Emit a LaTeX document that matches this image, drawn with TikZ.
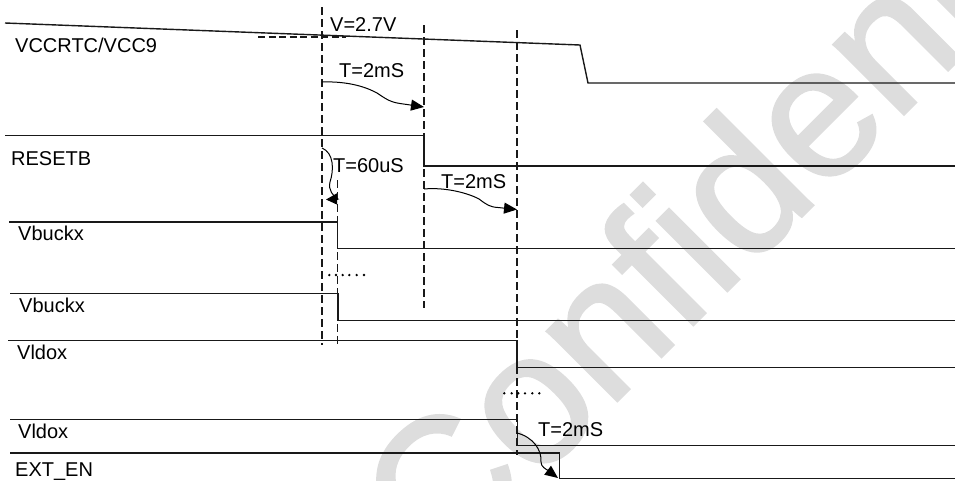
\documentclass[tikz,border=0pt]{standalone}
\usepackage{fontspec}
\setmainfont{Liberation Sans}
\font\wmfont="Liberation Sans:embolden=1.5" at 187pt
\usetikzlibrary{arrows.meta}
\definecolor{wm}{RGB}{221,221,221}
\definecolor{ink}{RGB}{25,25,25}
\begin{document}
\begin{tikzpicture}[x=1pt,y=-1pt,
  sig/.style={line width=1.4pt, draw=ink, line join=miter},
  vdash/.style={line width=1.1pt, draw=ink, dash pattern=on 8pt off 4pt},
  hdash/.style={line width=1.1pt, draw=ink, dash pattern=on 7pt off 3.5pt},
  lbl/.style={anchor=base west, inner sep=0pt, text=black, font=\fontsize{20}{24}\selectfont},
  tarr/.style={line width=1pt, draw=black, -{Triangle[length=13pt,width=11pt]}},
  tarrs/.style={line width=1pt, draw=black, -{Triangle[length=11pt,width=11pt]}},
  dotmark/.style={fill=black, draw=none}
]
\useasboundingbox (0,0) rectangle (955,480);
% watermark
\node[anchor=base west, inner sep=0pt, rotate=45, text=wm,
      font=\wmfont] (wmark) at (439,579) {Confidential};

% vertical dashed time markers
\coordinate (d1t) at (322,7);   \coordinate (d1b) at (322,345);
\coordinate (d4t) at (337.7,180); \coordinate (d4b) at (337.7,345);
\coordinate (d2t) at (424,25);  \coordinate (d2b) at (424,308);
\coordinate (d3t) at (517,30);  \coordinate (d3b) at (517,455);
\draw[vdash] (d1t) -- (d1b);
\draw[vdash] (d4t) -- (d4b);
\draw[vdash] (d2t) -- (d2b);
\draw[vdash] (d3t) -- (d3b);

% 2.7V threshold
\coordinate (th1) at (258,37); \coordinate (th2) at (346,37);
\draw[hdash] (th1) -- (th2);

% signals
\draw[sig] (5,23) -- (580,45) -- (588,83) -- (955,83);
\draw[sig] (5,135.5) -- (424,135.5) -- (424,166) -- (955,166);
\draw[sig] (9,222) -- (337.7,222) -- (337.7,248.5) -- (955,248.5);
\draw[sig] (10,293.5) -- (338,293.5) -- (338,320.7) -- (955,320.7);
\draw[sig] (8,340.5) -- (517,340.5) -- (517,367.3) -- (955,367.3);
\draw[sig] (10,419.3) -- (517.5,419.3) -- (517.5,445.7) -- (955,445.7);
\draw[sig] (10,452.8) -- (559.3,452.8) -- (559.3,478.5) -- (955,478.5);

% labels
\node[lbl] (vcc)  at (15,52)    {VCCRTC/VCC9};
\node[lbl] (rst)  at (11,165.5) {RESETB};
\node[lbl] (vb1)  at (18,240)   {Vbuckx};
\node[lbl] (vb2)  at (19,312)   {Vbuckx};
\node[lbl] (vl1)  at (17,359)   {Vldox};
\node[lbl] (vl2)  at (18,438)   {Vldox};
\node[lbl] (ext)  at (15,476.5) {EXT\_EN};
\node[lbl] (v27)  at (330,31)   {V=2.7V};
\node[lbl] (t1)   at (339,77)   {T=2mS};
\node[lbl] (t60)  at (333,172)  {T=60uS};
\node[lbl] (t2)   at (441,188)  {T=2mS};
\node[lbl] (t3)   at (538,436)  {T=2mS};

% timing arrows
\coordinate (a1s) at (322,82);   \coordinate (a1e) at (424,107);
\draw[tarr] (a1s) .. controls (350,81) and (368,88) .. (377,93)
            .. controls (386,99) and (390,102) .. (400,103.5) -- (a1e);
\coordinate (a2s) at (424,189);  \coordinate (a2e) at (517,209.5);
\draw[tarr] (a2s) .. controls (445,187) and (468,193) .. (479,199)
            .. controls (487,205) and (490,207) .. (498,207.5) -- (a2e);
\coordinate (a3s) at (322,148);  \coordinate (a3e) at (326,199.5);
\draw[tarrs] (a3s) .. controls (334,153) and (334,170) .. (330,182)
            .. controls (328,190) and (333,196) .. (338,199) -- (a3e);
\coordinate (a4s) at (517,433);  \coordinate (a4e) at (558,478);
\draw[tarr] (a4s) .. controls (533,437) and (542,450) .. (541,462)
            .. controls (541,467) and (546,469) .. (a4e);

% ellipsis dots
\foreach \x in {329.3,336,342.7,349.3,356.7,364}
  \fill[dotmark] (\x,275) circle[radius=1.3pt];
\foreach \x in {504.3,511.7,518.3,525,532.3,539.3}
  \fill[dotmark] (\x,393.3) circle[radius=1.3pt];
\end{tikzpicture}
\end{document}
